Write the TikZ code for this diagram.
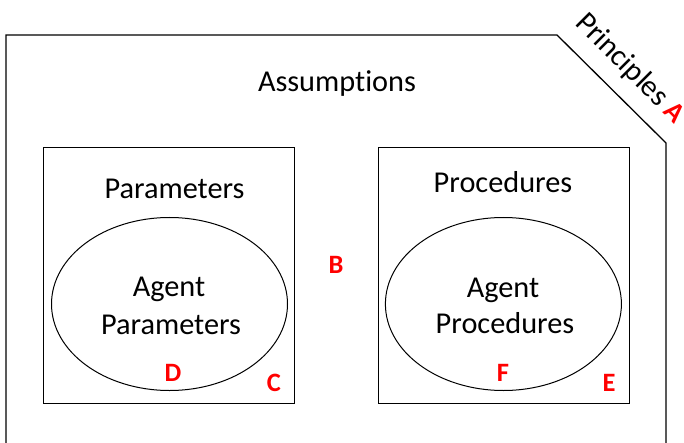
\documentclass[tikz,border=0pt]{standalone}
\usepackage{fontspec}
\setmainfont{Carlito}[Ligatures={NoCommon}]
\usetikzlibrary{shapes.geometric}
\tikzset{
  x=1pt, y=-1pt,
  frame/.style={draw=black, line width=1.3pt},
  boxnode/.style={draw=black, line width=1.2pt, rectangle, minimum width=251pt, minimum height=256pt, inner sep=0pt, anchor=north west},
  ell/.style={draw=black, line width=1pt, ellipse, minimum width=236pt, minimum height=173pt, inner sep=0pt},
  lbl/.style={font=\fontsize{30.3}{36}\selectfont, inner sep=0pt, anchor=base},
  redletter/.style={font=\fontsize{26.5}{30}\selectfont\bfseries, text=red, inner sep=0pt, anchor=base}
}
\begin{document}
\begin{tikzpicture}
\useasboundingbox (0,0) rectangle (684,443);
% outer frame
\draw[frame] (6,460) -- (6,35) -- (557,35) -- (666,143) -- (666,460);
\node[lbl] (assump) at (337,92) {Assumptions};
\node[lbl, rotate=-45, anchor=base west] (princ) at (574,24) {Principles \textcolor{red}{\fontsize{28}{30}\selectfont\bfseries A}};
\node[redletter] (B) at (336,273) {B};
% left box
\node[boxnode] (pbox) at (43,147) {};
\node[ell] (pell) at (169.5,304) {};
\node[lbl] (ptitle) at (174.5,199) {Parameters};
\node[lbl] (pa1) at (169,296) {Agent};
\node[lbl] (pa2) at (171,334) {Parameters};
\node[redletter] (D) at (173,381) {D};
\node[redletter] (C) at (274,391) {C};
% right box
\node[boxnode] (rbox) at (378,147) {};
\node[ell] (rell) at (503.4,304) {};
\node[lbl] (rtitle) at (503,193) {Procedures};
\node[lbl] (ra1) at (503,297) {Agent};
\node[lbl] (ra2) at (505,333) {Procedures};
\node[redletter] (F) at (503,381) {F};
\node[redletter] (E) at (609,391) {E};
\end{tikzpicture}
\end{document}
